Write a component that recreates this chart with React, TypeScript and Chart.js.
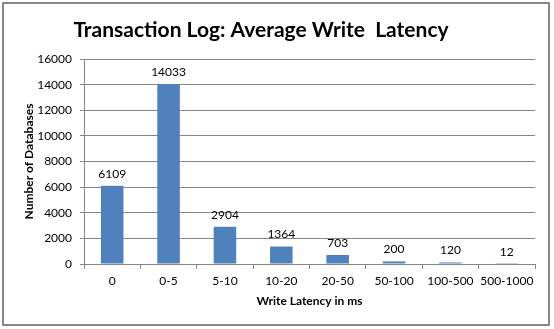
import React, { useEffect, useRef } from "react";
import { Chart, registerables } from "chart.js";

Chart.register(...registerables);

const categories = ["0", "0-5", "5-10", "10-20", "20-50", "50-100", "100-500", "500-1000"];
const databaseCounts = [6109, 14033, 2904, 1364, 703, 200, 120, 12];
const chartTitle = "Transaction Log: Average Write  Latency";
const xAxisTitle = "Write Latency in ms";
const yAxisTitle = "Number of Databases";
const yMin = 0;
const yMax = 16000;
const yStep = 2000;

const FONT = "Lato, 'Open Sans', sans-serif";
const GRID = "#868686";

const valueLabels = {
  id: "valueLabels",
  afterDatasetsDraw(chart: any) {
    const ctx = chart.ctx;
    const meta = chart.getDatasetMeta(0);
    ctx.save();
    ctx.font = `12px ${FONT}`;
    ctx.fillStyle = "#000";
    ctx.textAlign = "center";
    ctx.textBaseline = "middle";
    meta.data.forEach((bar: any, i: number) => {
      ctx.fillText(String(chart.data.datasets[0].data[i]), bar.x, bar.y - 12);
    });
    ctx.restore();
  },
};

const titlePlugin = {
  id: "customTitle",
  afterDraw(chart: any) {
    const ctx = chart.ctx;
    ctx.save();
    ctx.font = `bold 21px ${FONT}`;
    ctx.fillStyle = "#000";
    ctx.textAlign = "center";
    ctx.textBaseline = "middle";
    ctx.fillText(chartTitle, 261, 30);
    ctx.restore();
  },
};

export default function App() {
  const ref = useRef<HTMLCanvasElement>(null);
  useEffect(() => {
    document.body.style.margin = "0";
    const chart = new Chart(ref.current!, {
      type: "bar",
      data: {
        labels: categories,
        datasets: [
          {
            data: databaseCounts,
            backgroundColor: "#4F81BD",
            borderWidth: 0,
            barPercentage: 0.4,
            categoryPercentage: 1,
          },
        ],
      },
      options: {
        animation: false,
        responsive: false,
        maintainAspectRatio: false,
        layout: { padding: { left: 18, right: 19, top: 59, bottom: 17 } },
        plugins: {
          legend: { display: false },
          title: { display: false },
          tooltip: { enabled: false },
        },
        scales: {
          x: {
            offset: true,
            afterFit: (s: any) => {
              s.height = 48;
            },
            grid: {
              offset: true,
              drawOnChartArea: false,
              drawTicks: true,
              tickLength: 5,
              color: GRID,
            },
            border: { color: GRID },
            ticks: { color: "#000", font: { family: FONT, size: 12 }, padding: 5, maxRotation: 0, autoSkip: false },
            title: {
              display: true,
              text: xAxisTitle,
              color: "#000",
              font: { family: FONT, size: 12, weight: "bold" },
              padding: { top: 4, bottom: 4 },
            },
          },
          y: {
            min: yMin,
            max: yMax,
            afterFit: (s: any) => {
              s.width = 66;
            },
            grid: { color: GRID, drawTicks: true, tickLength: 4 },
            border: { color: GRID },
            ticks: {
              stepSize: yStep,
              color: "#000",
              font: { family: FONT, size: 12 },
              padding: 8,
              callback: (v: any) => String(v),
            },
            title: {
              display: true,
              text: yAxisTitle,
              color: "#000",
              font: { family: FONT, size: 12, weight: "bold" },
              padding: { top: 4, bottom: 4 },
            },
          },
        },
      },
      plugins: [valueLabels, titlePlugin],
    });
    return () => chart.destroy();
  }, []);
  return (
    <div style={{ position: "fixed", left: 0, top: 0, width: 554, height: 329, background: "#fff" }}>
      <canvas ref={ref} width={554} height={329} style={{ position: "absolute", left: 0, top: 0 }} />
      <div
        style={{
          position: "absolute",
          left: 2,
          top: 2,
          width: 548,
          height: 324,
          boxSizing: "border-box",
          border: "2px solid #878787",
          pointerEvents: "none",
        }}
      />
    </div>
  );
}
